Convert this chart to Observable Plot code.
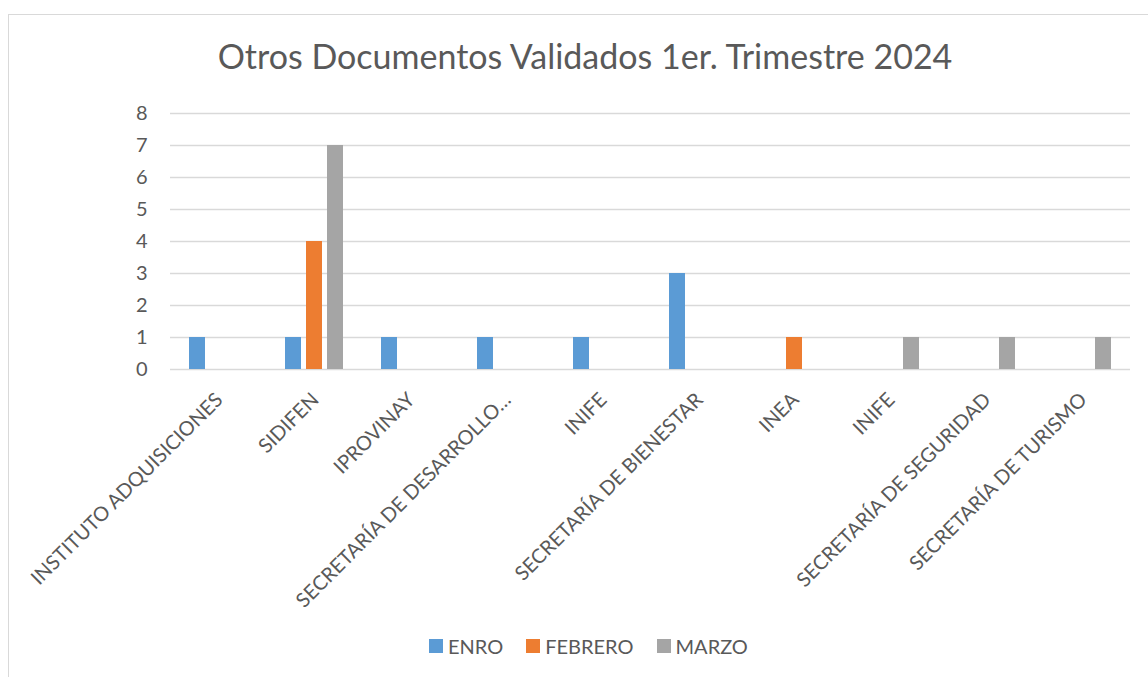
<!DOCTYPE html>
<html>
<head>
<meta charset="utf-8">
<script src="https://cdn.jsdelivr.net/npm/d3@7"></script>
<script src="https://cdn.jsdelivr.net/npm/@observablehq/plot@0.6"></script>
<style>
  html, body { margin:0; padding:0; background:#fff; width:1148px; height:677px; overflow:hidden; }
  body { position:relative; font-family: Lato, "Open Sans", sans-serif; }
  #frame { position:absolute; left:8px; top:14px; width:1200px; height:700px; border:1.5px solid #d9d9d9; box-sizing:border-box; }
  #title { position:absolute; left:0; top:36px; width:1170px; text-align:center; font-size:34px; line-height:1.2; color:#595959; font-weight:400; white-space:nowrap; }
  #chart { position:absolute; left:0; top:100px; }
  #legend { position:absolute; left:429px; top:634px; display:flex; align-items:center; font-size:20px; line-height:24px; color:#595959; }
  .item { display:flex; align-items:center; margin-right:23px; }
  .sw { width:14px; height:14px; margin-right:5px; display:inline-block; }
</style>
</head>
<body>
<div id="frame"></div>
<div id="title">Otros Documentos Validados 1er. Trimestre 2024</div>
<div id="chart"></div>
<div id="legend"></div>
<script>
const categories = ["INSTITUTO ADQUISICIONES", "SIDIFEN", "IPROVINAY", "SECRETARÍA DE DESARROLLO…", "INIFE", "SECRETARÍA DE BIENESTAR", "INEA", "INIFE", "SECRETARÍA DE SEGURIDAD", "SECRETARÍA DE TURISMO"];
const series = ["ENRO", "FEBRERO", "MARZO"];
const enro    = [1, 1, 1, 1, 1, 3, 0, 0, 0, 0];
const febrero = [0, 4, 0, 0, 0, 0, 1, 0, 0, 0];
const marzo   = [0, 7, 0, 0, 0, 0, 0, 1, 1, 1];
const colors  = ["#5B9BD5", "#ED7D31", "#A5A5A5"];
const yTicks  = [0, 1, 2, 3, 4, 5, 6, 7, 8];

const values = [enro, febrero, marzo];
const data = [];
categories.forEach((c, i) => {
  series.forEach((s, j) => {
    const v = values[j][i];
    if (v) data.push({cat: i, series: s, value: v});
  });
});

const chart = Plot.plot({
  width: 1148,
  height: 520,
  marginLeft: 170,
  marginRight: 18,
  marginTop: 13,
  marginBottom: 251,
  style: {fontFamily: "Lato, 'Open Sans', sans-serif", color: "#595959", background: "transparent", overflow: "visible"},
  fx: {domain: d3.range(categories.length), padding: 0, axis: null},
  x: {domain: series, paddingInner: 0.23, paddingOuter: 0.85, axis: null},
  y: {domain: [0, 8], axis: null},
  color: {domain: series, range: colors},
  marks: [
    Plot.gridY({ticks: yTicks, stroke: "#d9d9d9", strokeOpacity: 1, strokeWidth: 1.5}),
    Plot.axisY({ticks: yTicks, tickSize: 0, tickPadding: 23, fontSize: 20, fill: "#595959", label: null}),
    Plot.barY(data, {fx: "cat", x: "series", y: "value", fill: "series"}),
    Plot.axisFx({anchor: "bottom", tickRotate: -45, tickSize: 0, tickPadding: 0, dx: 1, dy: 27, fontSize: 20, fill: "#595959", label: null, tickFormat: i => categories[i]})
  ]
});
document.getElementById("chart").appendChild(chart);

const legend = document.getElementById("legend");
series.forEach((s, j) => {
  const it = document.createElement("div");
  it.className = "item";
  it.innerHTML = `<span class="sw" style="background:${colors[j]}"></span><span>${s}</span>`;
  legend.appendChild(it);
});
</script>
</body>
</html>
